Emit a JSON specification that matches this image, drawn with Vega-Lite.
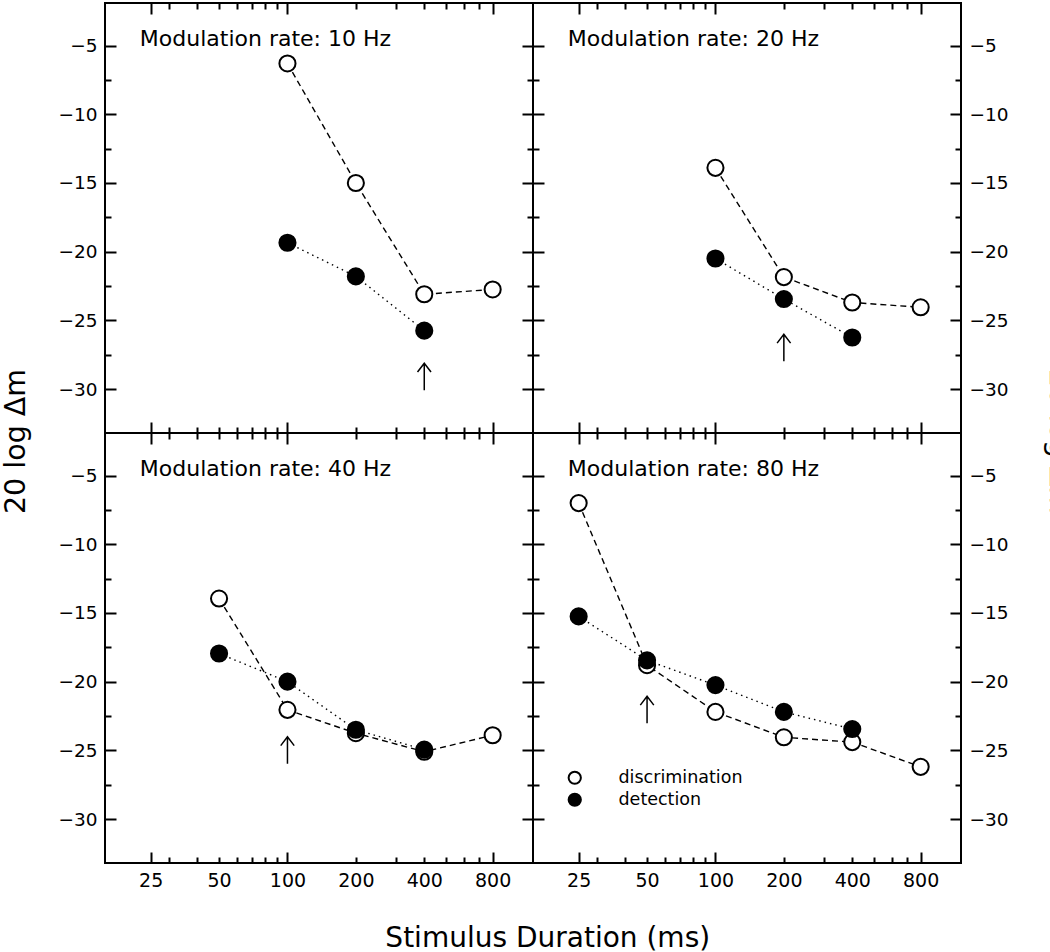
{
  "$schema": "https://vega.github.io/schema/vega-lite/v6.json",
  "padding": {"left": 0, "top": 1, "right": 0, "bottom": 0},
  "background": "white",
  "datasets": {
    "obs": [
      {"rate": 10, "task": "discrimination", "duration": 100, "level": -6.3},
      {"rate": 10, "task": "discrimination", "duration": 200, "level": -15.0},
      {"rate": 10, "task": "discrimination", "duration": 400, "level": -23.1},
      {"rate": 10, "task": "discrimination", "duration": 800, "level": -22.75},
      {"rate": 10, "task": "detection", "duration": 100, "level": -19.35},
      {"rate": 10, "task": "detection", "duration": 200, "level": -21.8},
      {"rate": 10, "task": "detection", "duration": 400, "level": -25.75},
      {"rate": 20, "task": "discrimination", "duration": 100, "level": -13.9},
      {"rate": 20, "task": "discrimination", "duration": 200, "level": -21.85},
      {"rate": 20, "task": "discrimination", "duration": 400, "level": -23.7},
      {"rate": 20, "task": "discrimination", "duration": 800, "level": -24.05},
      {"rate": 20, "task": "detection", "duration": 100, "level": -20.5},
      {"rate": 20, "task": "detection", "duration": 200, "level": -23.45},
      {"rate": 20, "task": "detection", "duration": 400, "level": -26.25},
      {"rate": 40, "task": "discrimination", "duration": 50, "level": -13.95},
      {"rate": 40, "task": "discrimination", "duration": 100, "level": -22.05},
      {"rate": 40, "task": "discrimination", "duration": 200, "level": -23.75},
      {"rate": 40, "task": "discrimination", "duration": 400, "level": -25.1},
      {"rate": 40, "task": "discrimination", "duration": 800, "level": -23.9},
      {"rate": 40, "task": "detection", "duration": 50, "level": -17.95},
      {"rate": 40, "task": "detection", "duration": 100, "level": -20.0},
      {"rate": 40, "task": "detection", "duration": 200, "level": -23.5},
      {"rate": 40, "task": "detection", "duration": 400, "level": -24.95},
      {"rate": 80, "task": "discrimination", "duration": 25, "level": -7.0},
      {"rate": 80, "task": "discrimination", "duration": 50, "level": -18.8},
      {"rate": 80, "task": "discrimination", "duration": 100, "level": -22.2},
      {"rate": 80, "task": "discrimination", "duration": 200, "level": -24.05},
      {"rate": 80, "task": "discrimination", "duration": 400, "level": -24.4},
      {"rate": 80, "task": "discrimination", "duration": 800, "level": -26.2},
      {"rate": 80, "task": "detection", "duration": 25, "level": -15.25},
      {"rate": 80, "task": "detection", "duration": 50, "level": -18.45},
      {"rate": 80, "task": "detection", "duration": 100, "level": -20.25},
      {"rate": 80, "task": "detection", "duration": 200, "level": -22.2},
      {"rate": 80, "task": "detection", "duration": 400, "level": -23.45}
    ],
    "arrows": [
      {"rate": 10, "duration": 400, "level": -29.1},
      {"rate": 20, "duration": 200, "level": -27.0},
      {"rate": 40, "duration": 100, "level": -25.0},
      {"rate": 80, "duration": 50, "level": -22.05}
    ]
  },
  "config": {
    "view": {"stroke": "black", "strokeWidth": 2},
    "font": "DejaVu Sans",
    "title": {"font": "DejaVu Sans", "fontWeight": "normal", "color": "black"},
    "axis": {"titleFont": "DejaVu Sans", "titleFontWeight": "normal", "titleColor": "black", "titleFontSize": 28.5},
    "concat": {"spacing": 0}
  },
  "title": {"text": "Stimulus Duration (ms)", "orient": "bottom", "anchor": "middle", "fontSize": 28, "offset": 34, "dx": 11},
  "columns": 2,
  "spacing": 0,
  "bounds": "flush",
  "concat": [
    {
      "width": 428, "height": 430,
      "resolve": {"axis": {"x": "independent", "y": "independent"}},
      "layer": [
        {
          "data": {"name": "obs"},
          "transform": [{"filter": "datum.rate == 10 && datum.task == 'discrimination'"}],
          "mark": {"type": "line", "stroke": "black", "strokeWidth": 1.4, "strokeDash": [6, 4]},
          "encoding": {
            "x": {"field": "duration", "type": "quantitative", "scale": {"type": "log", "domain": [15.74, 1204], "nice": false},
              "axis": {"orient": "bottom", "values": [25,30,40,50,60,70,80,90,100,200,300,400,500,600,700,800], "title": null, "domain": false, "grid": false, "labels": false, "tickColor": "black", "tickWidth": 2, "tickSize": {"condition": {"test": "datum.value == 25 || datum.value == 100 || datum.value == 800", "value": -11}, "value": -6}}},
            "y": {"field": "level", "type": "quantitative", "scale": {"domain": [-33.2, -1.9], "nice": false, "zero": false},
              "axis": {"orient": "left", "values": [-5,-7.5,-10,-12.5,-15,-17.5,-20,-22.5,-25,-27.5,-30], "title": "20 log Δm", "titleY": 438, "titlePadding": 27.5, "titleAngle": -90, "titleAlign": "center", "domain": false, "grid": false, "tickColor": "black", "tickWidth": 2, "tickSize": {"condition": {"test": "datum.value % 5 == 0", "value": -11}, "value": -6}, "labelExpr": "datum.value % 5 == 0 ? datum.label : ''", "labelFontSize": 18.5, "labelFont": "DejaVu Sans", "labelColor": "black", "labelPadding": 19, "labelOverlap": false, "labelFlush": false}}
          }
        },
        {
          "data": {"name": "obs"},
          "transform": [{"filter": "datum.rate == 10 && datum.task == 'detection'"}],
          "mark": {"type": "line", "stroke": "black", "strokeWidth": 1.4, "strokeDash": [1.5, 4]},
          "encoding": {
            "x": {"field": "duration", "type": "quantitative", "axis": null},
            "y": {"field": "level", "type": "quantitative", "axis": null}
          }
        },
        {
          "data": {"name": "obs"},
          "transform": [{"filter": "datum.rate == 10"}],
          "mark": {"type": "point", "filled": true, "size": 260, "stroke": "black", "strokeWidth": 2, "opacity": 1},
          "encoding": {
            "x": {"field": "duration", "type": "quantitative",
              "axis": {"orient": "top", "values": [25,30,40,50,60,70,80,90,100,200,300,400,500,600,700,800], "title": null, "domain": false, "grid": false, "labels": false, "tickColor": "black", "tickWidth": 2, "tickSize": {"condition": {"test": "datum.value == 25 || datum.value == 100 || datum.value == 800", "value": -11}, "value": -6}}},
            "y": {"field": "level", "type": "quantitative",
              "axis": {"orient": "right", "values": [-5,-7.5,-10,-12.5,-15,-17.5,-20,-22.5,-25,-27.5,-30], "title": null, "domain": false, "grid": false, "labels": false, "tickColor": "black", "tickWidth": 2, "tickSize": {"condition": {"test": "datum.value % 5 == 0", "value": -11}, "value": -6}}},
            "fill": {"field": "task", "type": "nominal", "scale": {"domain": ["discrimination", "detection"], "range": ["white", "black"]},
              "legend": {"title": null, "orient": "none", "legendX": 461, "legendY": 766, "symbolType": "circle", "symbolSize": 150, "symbolStrokeColor": "black", "symbolStrokeWidth": 2, "labelFontSize": 17.5, "labelFont": "DejaVu Sans", "labelColor": "black", "labelOffset": 35, "rowPadding": 1, "padding": 0}}
          }
        },
        {
          "data": {"name": "arrows"},
          "transform": [{"filter": "datum.rate == 10"}],
          "mark": {"type": "point", "shape": "M0,-1L0,1M-0.5,-0.35L0,-1L0.5,-0.35", "size": 729, "filled": false, "stroke": "black", "strokeWidth": 1.5, "opacity": 1},
          "encoding": {
            "x": {"field": "duration", "type": "quantitative", "axis": null},
            "y": {"field": "level", "type": "quantitative", "axis": null}
          }
        },
        {
          "data": {"values": [{"label": "Modulation rate: 10 Hz"}]},
          "mark": {"type": "text", "align": "left", "baseline": "alphabetic", "fontSize": 22, "font": "DejaVu Sans", "color": "black"},
          "encoding": {
            "text": {"field": "label"},
            "x": {"datum": 22.4, "type": "quantitative", "axis": null},
            "y": {"datum": -5, "type": "quantitative", "axis": null}
          }
        }
      ]
    },
    {
      "width": 428, "height": 430,
      "resolve": {"axis": {"x": "independent", "y": "independent"}},
      "layer": [
        {
          "data": {"name": "obs"},
          "transform": [{"filter": "datum.rate == 20 && datum.task == 'discrimination'"}],
          "mark": {"type": "line", "stroke": "black", "strokeWidth": 1.4, "strokeDash": [6, 4]},
          "encoding": {
            "x": {"field": "duration", "type": "quantitative", "scale": {"type": "log", "domain": [15.74, 1204], "nice": false},
              "axis": {"orient": "bottom", "values": [25,30,40,50,60,70,80,90,100,200,300,400,500,600,700,800], "title": null, "domain": false, "grid": false, "labels": false, "tickColor": "black", "tickWidth": 2, "tickSize": {"condition": {"test": "datum.value == 25 || datum.value == 100 || datum.value == 800", "value": -11}, "value": -6}}},
            "y": {"field": "level", "type": "quantitative", "scale": {"domain": [-33.2, -1.9], "nice": false, "zero": false},
              "axis": {"orient": "left", "values": [-5,-7.5,-10,-12.5,-15,-17.5,-20,-22.5,-25,-27.5,-30], "title": null, "domain": false, "grid": false, "labels": false, "tickColor": "black", "tickWidth": 2, "tickSize": {"condition": {"test": "datum.value % 5 == 0", "value": -11}, "value": -6}}}
          }
        },
        {
          "data": {"name": "obs"},
          "transform": [{"filter": "datum.rate == 20 && datum.task == 'detection'"}],
          "mark": {"type": "line", "stroke": "black", "strokeWidth": 1.4, "strokeDash": [1.5, 4]},
          "encoding": {
            "x": {"field": "duration", "type": "quantitative", "axis": null},
            "y": {"field": "level", "type": "quantitative", "axis": null}
          }
        },
        {
          "data": {"name": "obs"},
          "transform": [{"filter": "datum.rate == 20"}],
          "mark": {"type": "point", "filled": true, "size": 260, "stroke": "black", "strokeWidth": 2, "opacity": 1},
          "encoding": {
            "x": {"field": "duration", "type": "quantitative",
              "axis": {"orient": "top", "values": [25,30,40,50,60,70,80,90,100,200,300,400,500,600,700,800], "title": null, "domain": false, "grid": false, "labels": false, "tickColor": "black", "tickWidth": 2, "tickSize": {"condition": {"test": "datum.value == 25 || datum.value == 100 || datum.value == 800", "value": -11}, "value": -6}}},
            "y": {"field": "level", "type": "quantitative",
              "axis": {"orient": "right", "values": [-5,-7.5,-10,-12.5,-15,-17.5,-20,-22.5,-25,-27.5,-30], "title": "20 log Δm", "titleY": 438, "titlePadding": 35, "titleAngle": 90, "titleAlign": "center", "domain": false, "grid": false, "tickColor": "black", "tickWidth": 2, "tickSize": {"condition": {"test": "datum.value % 5 == 0", "value": -11}, "value": -6}, "labelExpr": "datum.value % 5 == 0 ? datum.label : ''", "labelFontSize": 18.5, "labelFont": "DejaVu Sans", "labelColor": "black", "labelPadding": 19, "labelOverlap": false, "labelFlush": false}},
            "fill": {"field": "task", "type": "nominal", "scale": {"domain": ["discrimination", "detection"], "range": ["white", "black"]},
              "legend": {"title": null, "orient": "none", "legendX": 461, "legendY": 766, "symbolType": "circle", "symbolSize": 150, "symbolStrokeColor": "black", "symbolStrokeWidth": 2, "labelFontSize": 17.5, "labelFont": "DejaVu Sans", "labelColor": "black", "labelOffset": 35, "rowPadding": 1, "padding": 0}}
          }
        },
        {
          "data": {"name": "arrows"},
          "transform": [{"filter": "datum.rate == 20"}],
          "mark": {"type": "point", "shape": "M0,-1L0,1M-0.5,-0.35L0,-1L0.5,-0.35", "size": 729, "filled": false, "stroke": "black", "strokeWidth": 1.5, "opacity": 1},
          "encoding": {
            "x": {"field": "duration", "type": "quantitative", "axis": null},
            "y": {"field": "level", "type": "quantitative", "axis": null}
          }
        },
        {
          "data": {"values": [{"label": "Modulation rate: 20 Hz"}]},
          "mark": {"type": "text", "align": "left", "baseline": "alphabetic", "fontSize": 22, "font": "DejaVu Sans", "color": "black"},
          "encoding": {
            "text": {"field": "label"},
            "x": {"datum": 22.4, "type": "quantitative", "axis": null},
            "y": {"datum": -5, "type": "quantitative", "axis": null}
          }
        }
      ]
    },
    {
      "width": 428, "height": 430,
      "resolve": {"axis": {"x": "independent", "y": "independent"}},
      "layer": [
        {
          "data": {"name": "obs"},
          "transform": [{"filter": "datum.rate == 40 && datum.task == 'discrimination'"}],
          "mark": {"type": "line", "stroke": "black", "strokeWidth": 1.4, "strokeDash": [6, 4]},
          "encoding": {
            "x": {"field": "duration", "type": "quantitative", "scale": {"type": "log", "domain": [15.74, 1204], "nice": false},
              "axis": {"orient": "bottom", "values": [25,30,40,50,60,70,80,90,100,200,300,400,500,600,700,800], "title": null, "domain": false, "grid": false, "tickColor": "black", "tickWidth": 2, "tickSize": {"condition": {"test": "datum.value == 25 || datum.value == 100 || datum.value == 800", "value": -11}, "value": -6}, "labelExpr": "indexof([25,50,100,200,400,800], datum.value) >= 0 ? datum.label : ''", "format": "d", "labelFontSize": 19, "labelFont": "DejaVu Sans", "labelColor": "black", "labelPadding": {"condition": {"test": "datum.value == 25 || datum.value == 100 || datum.value == 800", "value": 19}, "value": 14}, "labelOverlap": false, "labelFlush": false}},
            "y": {"field": "level", "type": "quantitative", "scale": {"domain": [-33.2, -1.9], "nice": false, "zero": false},
              "axis": {"orient": "left", "values": [-5,-7.5,-10,-12.5,-15,-17.5,-20,-22.5,-25,-27.5,-30], "title": null, "domain": false, "grid": false, "tickColor": "black", "tickWidth": 2, "tickSize": {"condition": {"test": "datum.value % 5 == 0", "value": -11}, "value": -6}, "labelExpr": "datum.value % 5 == 0 ? datum.label : ''", "labelFontSize": 18.5, "labelFont": "DejaVu Sans", "labelColor": "black", "labelPadding": 19, "labelOverlap": false, "labelFlush": false}}
          }
        },
        {
          "data": {"name": "obs"},
          "transform": [{"filter": "datum.rate == 40 && datum.task == 'detection'"}],
          "mark": {"type": "line", "stroke": "black", "strokeWidth": 1.4, "strokeDash": [1.5, 4]},
          "encoding": {
            "x": {"field": "duration", "type": "quantitative", "axis": null},
            "y": {"field": "level", "type": "quantitative", "axis": null}
          }
        },
        {
          "data": {"name": "obs"},
          "transform": [{"filter": "datum.rate == 40"}],
          "mark": {"type": "point", "filled": true, "size": 260, "stroke": "black", "strokeWidth": 2, "opacity": 1},
          "encoding": {
            "x": {"field": "duration", "type": "quantitative",
              "axis": {"orient": "top", "values": [25,30,40,50,60,70,80,90,100,200,300,400,500,600,700,800], "title": null, "domain": false, "grid": false, "labels": false, "tickColor": "black", "tickWidth": 2, "tickSize": {"condition": {"test": "datum.value == 25 || datum.value == 100 || datum.value == 800", "value": -11}, "value": -6}}},
            "y": {"field": "level", "type": "quantitative",
              "axis": {"orient": "right", "values": [-5,-7.5,-10,-12.5,-15,-17.5,-20,-22.5,-25,-27.5,-30], "title": null, "domain": false, "grid": false, "labels": false, "tickColor": "black", "tickWidth": 2, "tickSize": {"condition": {"test": "datum.value % 5 == 0", "value": -11}, "value": -6}}},
            "fill": {"field": "task", "type": "nominal", "scale": {"domain": ["discrimination", "detection"], "range": ["white", "black"]},
              "legend": {"title": null, "orient": "none", "legendX": 461, "legendY": 766, "symbolType": "circle", "symbolSize": 150, "symbolStrokeColor": "black", "symbolStrokeWidth": 2, "labelFontSize": 17.5, "labelFont": "DejaVu Sans", "labelColor": "black", "labelOffset": 35, "rowPadding": 1, "padding": 0}}
          }
        },
        {
          "data": {"name": "arrows"},
          "transform": [{"filter": "datum.rate == 40"}],
          "mark": {"type": "point", "shape": "M0,-1L0,1M-0.5,-0.35L0,-1L0.5,-0.35", "size": 729, "filled": false, "stroke": "black", "strokeWidth": 1.5, "opacity": 1},
          "encoding": {
            "x": {"field": "duration", "type": "quantitative", "axis": null},
            "y": {"field": "level", "type": "quantitative", "axis": null}
          }
        },
        {
          "data": {"values": [{"label": "Modulation rate: 40 Hz"}]},
          "mark": {"type": "text", "align": "left", "baseline": "alphabetic", "fontSize": 22, "font": "DejaVu Sans", "color": "black"},
          "encoding": {
            "text": {"field": "label"},
            "x": {"datum": 22.4, "type": "quantitative", "axis": null},
            "y": {"datum": -5, "type": "quantitative", "axis": null}
          }
        }
      ]
    },
    {
      "width": 428, "height": 430,
      "resolve": {"axis": {"x": "independent", "y": "independent"}},
      "layer": [
        {
          "data": {"name": "obs"},
          "transform": [{"filter": "datum.rate == 80 && datum.task == 'discrimination'"}],
          "mark": {"type": "line", "stroke": "black", "strokeWidth": 1.4, "strokeDash": [6, 4]},
          "encoding": {
            "x": {"field": "duration", "type": "quantitative", "scale": {"type": "log", "domain": [15.74, 1204], "nice": false},
              "axis": {"orient": "bottom", "values": [25,30,40,50,60,70,80,90,100,200,300,400,500,600,700,800], "title": null, "domain": false, "grid": false, "tickColor": "black", "tickWidth": 2, "tickSize": {"condition": {"test": "datum.value == 25 || datum.value == 100 || datum.value == 800", "value": -11}, "value": -6}, "labelExpr": "indexof([25,50,100,200,400,800], datum.value) >= 0 ? datum.label : ''", "format": "d", "labelFontSize": 19, "labelFont": "DejaVu Sans", "labelColor": "black", "labelPadding": {"condition": {"test": "datum.value == 25 || datum.value == 100 || datum.value == 800", "value": 19}, "value": 14}, "labelOverlap": false, "labelFlush": false}},
            "y": {"field": "level", "type": "quantitative", "scale": {"domain": [-33.2, -1.9], "nice": false, "zero": false},
              "axis": {"orient": "left", "values": [-5,-7.5,-10,-12.5,-15,-17.5,-20,-22.5,-25,-27.5,-30], "title": null, "domain": false, "grid": false, "labels": false, "tickColor": "black", "tickWidth": 2, "tickSize": {"condition": {"test": "datum.value % 5 == 0", "value": -11}, "value": -6}}}
          }
        },
        {
          "data": {"name": "obs"},
          "transform": [{"filter": "datum.rate == 80 && datum.task == 'detection'"}],
          "mark": {"type": "line", "stroke": "black", "strokeWidth": 1.4, "strokeDash": [1.5, 4]},
          "encoding": {
            "x": {"field": "duration", "type": "quantitative", "axis": null},
            "y": {"field": "level", "type": "quantitative", "axis": null}
          }
        },
        {
          "data": {"name": "obs"},
          "transform": [{"filter": "datum.rate == 80"}],
          "mark": {"type": "point", "filled": true, "size": 260, "stroke": "black", "strokeWidth": 2, "opacity": 1},
          "encoding": {
            "x": {"field": "duration", "type": "quantitative",
              "axis": {"orient": "top", "values": [25,30,40,50,60,70,80,90,100,200,300,400,500,600,700,800], "title": null, "domain": false, "grid": false, "labels": false, "tickColor": "black", "tickWidth": 2, "tickSize": {"condition": {"test": "datum.value == 25 || datum.value == 100 || datum.value == 800", "value": -11}, "value": -6}}},
            "y": {"field": "level", "type": "quantitative",
              "axis": {"orient": "right", "values": [-5,-7.5,-10,-12.5,-15,-17.5,-20,-22.5,-25,-27.5,-30], "title": null, "domain": false, "grid": false, "tickColor": "black", "tickWidth": 2, "tickSize": {"condition": {"test": "datum.value % 5 == 0", "value": -11}, "value": -6}, "labelExpr": "datum.value % 5 == 0 ? datum.label : ''", "labelFontSize": 18.5, "labelFont": "DejaVu Sans", "labelColor": "black", "labelPadding": 19, "labelOverlap": false, "labelFlush": false}},
            "fill": {"field": "task", "type": "nominal", "scale": {"domain": ["discrimination", "detection"], "range": ["white", "black"]},
              "legend": {"title": null, "orient": "none", "legendX": 461, "legendY": 766, "symbolType": "circle", "symbolSize": 150, "symbolStrokeColor": "black", "symbolStrokeWidth": 2, "labelFontSize": 17.5, "labelFont": "DejaVu Sans", "labelColor": "black", "labelOffset": 35, "rowPadding": 1, "padding": 0}}
          }
        },
        {
          "data": {"name": "arrows"},
          "transform": [{"filter": "datum.rate == 80"}],
          "mark": {"type": "point", "shape": "M0,-1L0,1M-0.5,-0.35L0,-1L0.5,-0.35", "size": 729, "filled": false, "stroke": "black", "strokeWidth": 1.5, "opacity": 1},
          "encoding": {
            "x": {"field": "duration", "type": "quantitative", "axis": null},
            "y": {"field": "level", "type": "quantitative", "axis": null}
          }
        },
        {
          "data": {"values": [{"label": "Modulation rate: 80 Hz"}]},
          "mark": {"type": "text", "align": "left", "baseline": "alphabetic", "fontSize": 22, "font": "DejaVu Sans", "color": "black"},
          "encoding": {
            "text": {"field": "label"},
            "x": {"datum": 22.4, "type": "quantitative", "axis": null},
            "y": {"datum": -5, "type": "quantitative", "axis": null}
          }
        }
      ]
    }
  ]
}
